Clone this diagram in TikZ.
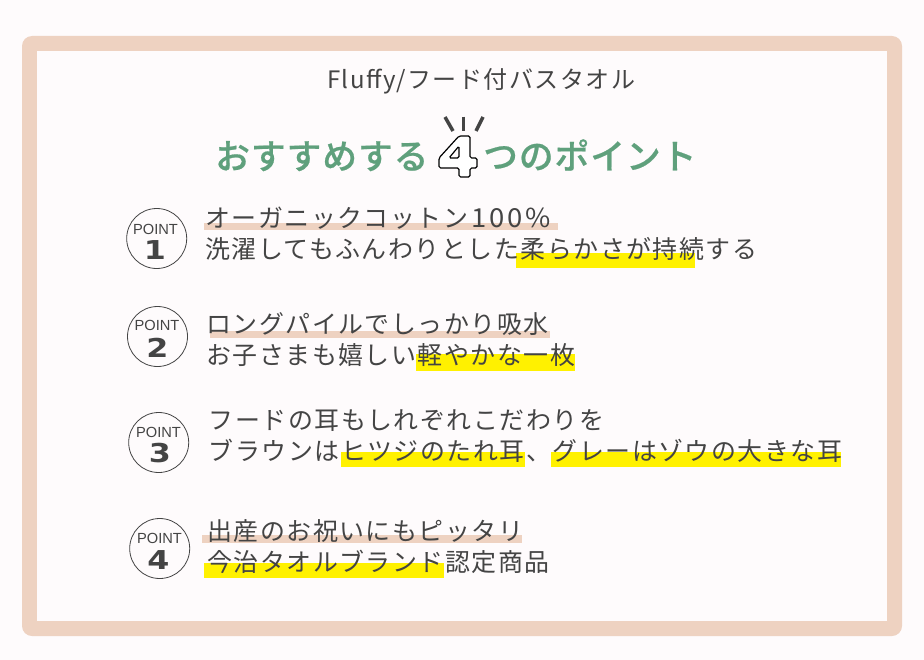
\documentclass[tikz,border=0pt]{standalone}
\usepackage{fontspec}
\newfontfamily\jp[LetterSpace=6.1]{Noto Sans CJK JP}
\newfontfamily\jpt[LetterSpace=6]{Noto Sans CJK JP}
\newfontfamily\jpw[LetterSpace=10]{Noto Sans CJK JP}
\newfontfamily\jphead[LetterSpace=3,FakeBold=0.6]{Noto Sans CJK JP Medium}
\newfontfamily\pointf{Liberation Sans}
\newfontfamily\digitf{DejaVu Sans}
\definecolor{bgc}{HTML}{FEFBFC}
\definecolor{framec}{HTML}{EED2C1}
\definecolor{ink}{HTML}{444444}
\definecolor{headc}{HTML}{5FA07C}
\definecolor{mark}{HTML}{FFF100}
\tikzset{
  x=0.75pt,y=-0.75pt,
  txt/.style={anchor=base west,inner sep=0pt,text=ink,font=\jp\fontsize{18.7pt}{18.7pt}\selectfont},
  headtxt/.style={anchor=base west,inner sep=0pt,text=headc,font=\jphead\fontsize{26pt}{26pt}\selectfont},
  ptc/.style={draw=ink,line width=0.6pt,fill=bgc,circle,minimum size=45pt,inner sep=0pt},
  ptl/.style={inner sep=0pt,text=ink,font=\pointf\fontsize{11pt}{11pt}\selectfont},
  ptn/.style={inner sep=0pt,text=ink,xscale=1.22,font=\digitf\bfseries\fontsize{19.5pt}{19.5pt}\selectfont},
  pinkbar/.style={fill=framec,draw=none},
  yellowbar/.style={fill=mark,draw=none},
  ray/.style={draw=ink,line width=2.6pt}
}
\begin{document}
\begin{tikzpicture}
\useasboundingbox (0,0) rectangle (924,660);
\fill[bgc] (0,0) rectangle (924,660);
\fill[framec,rounded corners=7.5pt] (22,36) rectangle (902,636);
\fill[bgc] (37,51) rectangle (887,621);
% highlights
\fill[pinkbar] (204,223) rectangle (558,230);
\fill[yellowbar] (516,253) rectangle (695,268);
\fill[pinkbar] (210,331) rectangle (550,338);
\fill[yellowbar] (416,354) rectangle (575,371);
\fill[yellowbar] (341,452) rectangle (525,467);
\fill[yellowbar] (551,452) rectangle (841,467);
\fill[pinkbar] (202,535) rectangle (522,543);
\fill[yellowbar] (204,563) rectangle (444,578);
% title
\node[txt,font=\jpt\fontsize{18pt}{18pt}\selectfont] (title) at (327,88.5) {Fluffy/フード付バスタオル};
\node[headtxt] (h1) at (215,169) {おすすめする};
\node[headtxt] (h2) at (483,169) {つのポイント};
% outlined 4
\draw[black,line width=0.9pt,fill=white,even odd rule,rounded corners=1.2pt]
  (459,136) -- (470,136) -- (470,158) -- (477,158) -- (477,168) -- (470,168) -- (470,177) -- (459,177) -- (459,168) -- (439,168) -- (439,158) -- cycle
  (459,146) -- (449,158) -- (459,158) -- cycle;
\coordinate (r1a) at (445,117); \coordinate (r1b) at (453,131);
\coordinate (r2a) at (463.7,116.5); \coordinate (r2b) at (463.7,131);
\coordinate (r3a) at (483,117); \coordinate (r3b) at (476,131);
\draw[ray] (r1a) -- (r1b);
\draw[ray] (r2a) -- (r2b);
\draw[ray] (r3a) -- (r3b);
% points
\node[ptc] (c1) at (156.7,238.5) {};
\node[ptl] (p1) at (155.5,229) {POINT};
\node[ptn] (n1) at (155,250) {1};
\node[ptc] (c2) at (157.5,336.5) {};
\node[ptl] (p2) at (157,325) {POINT};
\node[ptn] (n2) at (157.5,348) {2};
\node[ptc] (c3) at (158.7,442.5) {};
\node[ptl] (p3) at (158.5,432) {POINT};
\node[ptn] (n3) at (160,453) {3};
\node[ptc] (c4) at (159.7,548.5) {};
\node[ptl] (p4) at (159.5,538) {POINT};
\node[ptn] (n4) at (158.5,560) {4};
% text
\node[txt] (t1a) at (205,227) {オーガニックコットン\hspace{2.5pt}\scalebox{1.1}[1.05]{\jpw\fontsize{18.7pt}{18.7pt}\selectfont 100\%}};
\node[txt] (t1b) at (205,258) {洗濯してもふんわりとした柔らかさが持続する};
\node[txt] (t2a) at (206,333) {ロングパイルでしっかり吸水};
\node[txt] (t2b) at (206,364) {お子さまも嬉しい軽やかな一枚};
\node[txt] (t3a) at (208.5,429) {フードの耳もしれぞれこだわりを};
\node[txt] (t3b) at (208.5,460) {ブラウンはヒツジのたれ耳、グレーはゾウの大きな耳};
\node[txt] (t4a) at (207,540) {出産のお祝いにもピッタリ};
\node[txt] (t4b) at (207,571) {今治タオルブランド認定商品};
\end{tikzpicture}
\end{document}
